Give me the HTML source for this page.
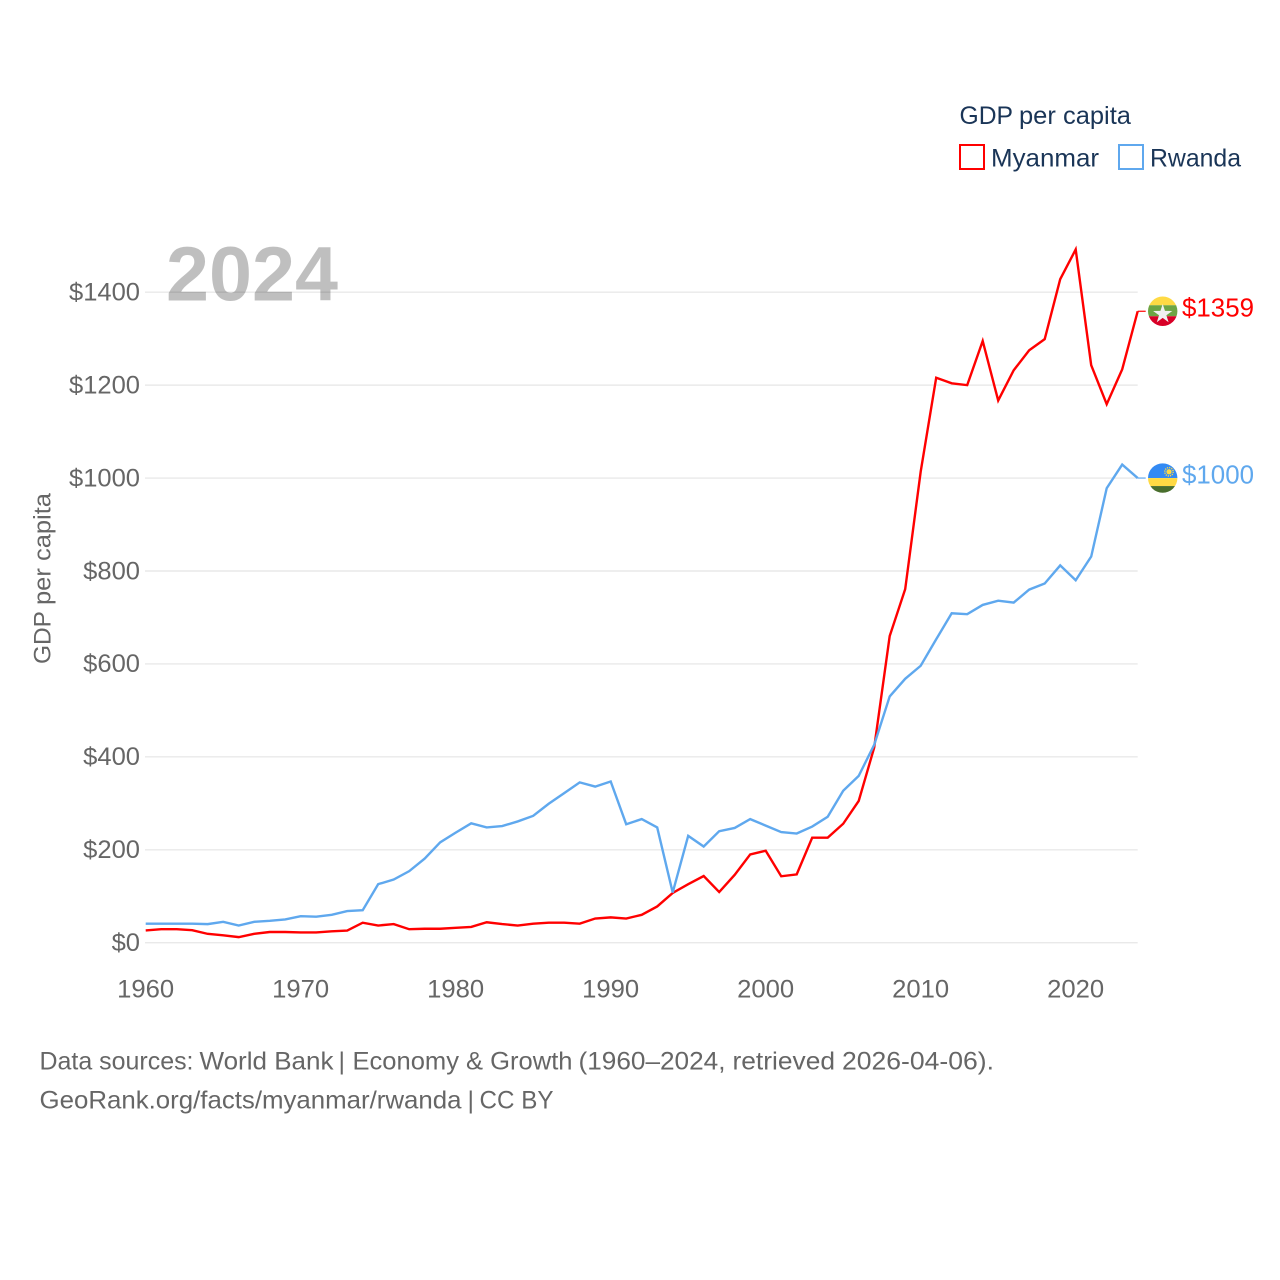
<!DOCTYPE html>
<html lang="en">
<head>
<meta charset="utf-8">
<title>GDP per capita: Myanmar and Rwanda</title>
<style>
html,body{margin:0;padding:0;background:#fff;}
svg{display:block;}
text{font-family:"Liberation Sans",sans-serif;}
</style>
</head>
<body>
<svg id="chart" width="1280" height="1280" viewBox="0 0 1280 1280" xmlns="http://www.w3.org/2000/svg">
  <defs>
    <clipPath id="flag-clip"><circle cx="0" cy="0" r="14.7"></circle></clipPath>
  </defs>
  <rect width="1280" height="1280" fill="#ffffff"></rect>

  <g id="grid-layer"></g>
  <g id="y-tick-layer"></g>
  <g id="x-tick-layer"></g>

  <text x="166" y="300.7" font-size="77" font-weight="700" fill="#000000" fill-opacity="0.25" textLength="172" lengthAdjust="spacingAndGlyphs">2024</text>

  <g transform="translate(50.5,664) rotate(-90)" font-size="24" fill="#666666">
    <text x="0" y="0" textLength="53" lengthAdjust="spacingAndGlyphs">GDP</text>
    <text x="59" y="0" textLength="112" lengthAdjust="spacingAndGlyphs">per capita</text>
  </g>

  <g id="series-layer"></g>

  <g id="flag-myanmar">
    <g clip-path="url(#flag-clip)">
      <rect x="-15" y="-15" width="30" height="9" fill="#ffda44"></rect>
      <rect x="-15" y="-6" width="30" height="11" fill="#6da544"></rect>
      <rect x="-15" y="5" width="30" height="10" fill="#d80027"></rect>
      <polygon points="0,-7.3 2.27,-0.32 9.6,-0.3 3.67,3.99 5.9,11 0,6.66 -5.9,11 -3.67,3.99 -9.6,-0.3 -2.27,-0.32" fill="#f0f0f0"></polygon>
    </g>
  </g>
  <g id="flag-rwanda">
    <g clip-path="url(#flag-clip)">
      <rect x="-15" y="-15" width="30" height="15" fill="#338af3"></rect>
      <rect x="-15" y="0" width="30" height="8" fill="#ffda44"></rect>
      <rect x="-15" y="8" width="30" height="7" fill="#496e2d"></rect>
      <circle cx="6.3" cy="-6.3" r="2.6" fill="#ffda44"></circle>
      <circle cx="6.3" cy="-6.3" r="4.2" fill="none" stroke="#ffda44" stroke-width="1.4" stroke-dasharray="1.2 1"></circle>
    </g>
  </g>
  <text id="label-myanmar" x="1182" font-size="26" fill="#ff0000" textLength="72" lengthAdjust="spacingAndGlyphs"></text>
  <text id="label-rwanda" x="1182" font-size="26" fill="#5fa8ee" textLength="72" lengthAdjust="spacingAndGlyphs"></text>

  <g>
    <g font-size="25" fill="#1a3557">
      <text x="959.5" y="124" textLength="53.5" lengthAdjust="spacingAndGlyphs">GDP</text>
      <text x="1019" y="124" textLength="112" lengthAdjust="spacingAndGlyphs">per capita</text>
    </g>
    <g>
      <rect x="960" y="145" width="24" height="24" fill="none" stroke="#ff0000" stroke-width="2"></rect>
      <text x="991" y="166.5" font-size="25" fill="#1a3557" textLength="108" lengthAdjust="spacingAndGlyphs">Myanmar</text>
    </g>
    <g>
      <rect x="1119" y="145" width="24" height="24" fill="none" stroke="#5fa8ee" stroke-width="2"></rect>
      <text x="1150" y="166.5" font-size="25" fill="#1a3557" textLength="91" lengthAdjust="spacingAndGlyphs">Rwanda</text>
    </g>
  </g>

  <g font-size="25" fill="#666666">
    <text x="39.5" y="1069.5" textLength="154" lengthAdjust="spacingAndGlyphs">Data sources:</text>
    <text x="199.5" y="1069.5" textLength="134" lengthAdjust="spacingAndGlyphs">World Bank</text>
    <text x="338.5" y="1069.5">|</text>
    <text x="352.5" y="1069.5" textLength="220" lengthAdjust="spacingAndGlyphs">Economy &amp; Growth</text>
    <text x="578.5" y="1069.5" textLength="147" lengthAdjust="spacingAndGlyphs">(1960–2024,</text>
    <text x="732.5" y="1069.5" textLength="102.5" lengthAdjust="spacingAndGlyphs">retrieved</text>
    <text x="842" y="1069.5" textLength="152" lengthAdjust="spacingAndGlyphs">2026-04-06).</text>
  </g>
  <g font-size="25" fill="#666666">
    <text x="39.5" y="1108.3" textLength="422" lengthAdjust="spacingAndGlyphs">GeoRank.org/facts/myanmar/rwanda</text>
    <text x="467.5" y="1108.3">|</text>
    <text x="479.5" y="1108.3" textLength="74" lengthAdjust="spacingAndGlyphs">CC BY</text>
  </g>
</svg>
<script>
const years = [1960,1961,1962,1963,1964,1965,1966,1967,1968,1969,1970,1971,1972,1973,1974,1975,1976,1977,1978,1979,1980,1981,1982,1983,1984,1985,1986,1987,1988,1989,1990,1991,1992,1993,1994,1995,1996,1997,1998,1999,2000,2001,2002,2003,2004,2005,2006,2007,2008,2009,2010,2011,2012,2013,2014,2015,2016,2017,2018,2019,2020,2021,2022,2023,2024];
const myanmar = [26.5,29,29,27,19,16,12,19,23,23,22,22,24.5,26,43,37,40,29,30,30,32,34,44,40,37,41,43,43,41,52,54.5,52,60,78,107,126,143.5,109,146,190,198,143,147,226,226,256,305,420,660,761,1014,1216,1204,1200,1295,1167,1232,1275,1299,1428,1492,1243,1159,1234,1359];
const rwanda = [41,41,41,41,40,45,37,45,47,50,57,56,60,68,70,126,136,154,181,216,237,257,248,251,261,273,299,322,345,336,347,255,266,248,108,230,207,240,247,266,252,238,235,250,271,327,359,426,530,568,596,653,709,707,727,736,732,760,773,812,780,831,978,1029,1000];
const yTicks = [0,200,400,600,800,1000,1200,1400];
const xTicks = [1960,1970,1980,1990,2000,2010,2020];

const NS = 'http://www.w3.org/2000/svg';
const xAt = function (yr) { return 145.7 + (yr - 1960) * 15.5; };
const yAt = function (v) { return 942.7 - v * 0.46464; };

const gridLayer = document.getElementById('grid-layer');
const yTickLayer = document.getElementById('y-tick-layer');
const xTickLayer = document.getElementById('x-tick-layer');
const seriesLayer = document.getElementById('series-layer');

yTicks.forEach(function (v) {
  const line = document.createElementNS(NS, 'line');
  
  
  line.setAttribute('x1', xAt(1960) - 0.7);
  line.setAttribute('x2', xAt(2024));
  line.setAttribute('y1', yAt(v));
  line.setAttribute('y2', yAt(v));
  line.setAttribute('stroke', '#e9e9e9');
  line.setAttribute('stroke-width', '1.4');
  gridLayer.appendChild(line);

  const label = document.createElementNS(NS, 'text');
  const str = '$' + v;
  
  
  label.setAttribute('x', 140);
  label.setAttribute('y', yAt(v) + 8.3);
  label.setAttribute('text-anchor', 'end');
  label.setAttribute('font-size', '25');
  label.setAttribute('fill', '#666666');
  label.setAttribute('textLength', str.length * 14.2);
  label.setAttribute('lengthAdjust', 'spacingAndGlyphs');
  label.textContent = str;
  yTickLayer.appendChild(label);
});

xTicks.forEach(function (yr) {
  const label = document.createElementNS(NS, 'text');
  
  
  label.setAttribute('x', xAt(yr));
  label.setAttribute('y', 997.7);
  label.setAttribute('text-anchor', 'middle');
  label.setAttribute('font-size', '25');
  label.setAttribute('fill', '#666666');
  label.setAttribute('textLength', 57);
  label.setAttribute('lengthAdjust', 'spacingAndGlyphs');
  label.textContent = String(yr);
  xTickLayer.appendChild(label);
});

function pointsFor(values) {
  return values.map(function (v, i) {
    return xAt(years[i]).toFixed(2) + ',' + yAt(v).toFixed(2);
  }).join(' ');
}

const lineMyanmar = document.createElementNS(NS, 'polyline');


lineMyanmar.setAttribute('points', pointsFor(myanmar));
lineMyanmar.setAttribute('fill', 'none');
lineMyanmar.setAttribute('stroke', '#ff0000');
lineMyanmar.setAttribute('stroke-width', '2.4');
lineMyanmar.setAttribute('stroke-linejoin', 'miter');
seriesLayer.appendChild(lineMyanmar);

const lineRwanda = document.createElementNS(NS, 'polyline');


lineRwanda.setAttribute('points', pointsFor(rwanda));
lineRwanda.setAttribute('fill', 'none');
lineRwanda.setAttribute('stroke', '#5fa8ee');
lineRwanda.setAttribute('stroke-width', '2.4');
lineRwanda.setAttribute('stroke-linejoin', 'miter');
seriesLayer.appendChild(lineRwanda);

const endMyanmar = myanmar[myanmar.length - 1];
const endRwanda = rwanda[rwanda.length - 1];
const lastX = xAt(years[years.length - 1]);

const leaderMyanmar = document.createElementNS(NS, 'line');


leaderMyanmar.setAttribute('x1', lastX);
leaderMyanmar.setAttribute('x2', lastX + 8);
leaderMyanmar.setAttribute('y1', yAt(endMyanmar));
leaderMyanmar.setAttribute('y2', yAt(endMyanmar));
leaderMyanmar.setAttribute('stroke', '#ff0000');
leaderMyanmar.setAttribute('stroke-width', '1.2');
seriesLayer.appendChild(leaderMyanmar);

const leaderRwanda = document.createElementNS(NS, 'line');


leaderRwanda.setAttribute('x1', lastX);
leaderRwanda.setAttribute('x2', lastX + 8);
leaderRwanda.setAttribute('y1', yAt(endRwanda));
leaderRwanda.setAttribute('y2', yAt(endRwanda));
leaderRwanda.setAttribute('stroke', '#5fa8ee');
leaderRwanda.setAttribute('stroke-width', '1.2');
seriesLayer.appendChild(leaderRwanda);

document.getElementById('flag-myanmar').setAttribute('transform', 'translate(1162.7,' + yAt(endMyanmar) + ')');
document.getElementById('flag-rwanda').setAttribute('transform', 'translate(1162.7,' + yAt(endRwanda) + ')');

const labelMyanmar = document.getElementById('label-myanmar');
labelMyanmar.setAttribute('y', yAt(endMyanmar) + 5.4);
labelMyanmar.textContent = '$' + endMyanmar;
const labelRwanda = document.getElementById('label-rwanda');
labelRwanda.setAttribute('y', yAt(endRwanda) + 5.4);
labelRwanda.textContent = '$' + endRwanda;
</script>
</body>
</html>
